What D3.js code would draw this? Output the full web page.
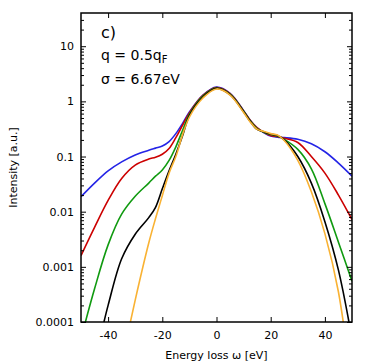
<!DOCTYPE html>
<html>
<head>
<meta charset="utf-8">
<script src="https://cdn.jsdelivr.net/npm/d3@7"></script>
<style>
  body { margin: 0; background: #fff; }
  text { font-family: "DejaVu Sans", sans-serif; }
</style>
</head>
<body>
<div id="chart"></div>
<script>
// energy loss grid (eV)
const omega = [-50, -45, -40, -35, -30, -25, -22.5, -20, -17.5, -15, -12.5, -10, -5, 0, 5, 10, 12.5, 15, 17.5, 20, 22.5, 25, 30, 35, 40, 45, 50];

// intensity (values below 1e-4 are clipped)
const blue   = [0.0187, 0.033, 0.055, 0.08, 0.107, 0.13, 0.142, 0.155, 0.187, 0.26, 0.40, 0.64, 1.3, 1.82, 1.4, 0.68, 0.45, 0.33, 0.27, 0.235, 0.225, 0.22, 0.205, 0.17, 0.122, 0.076, 0.044];
const red    = [0.0016, 0.0052, 0.016, 0.04, 0.07, 0.09, 0.097, 0.11, 0.14, 0.22, 0.37, 0.62, 1.28, 1.78, 1.38, 0.67, 0.45, 0.33, 0.275, 0.24, 0.23, 0.215, 0.18, 0.1, 0.05, 0.02, 0.0072];
const green  = [0.00005, 0.0004, 0.0025, 0.009, 0.019, 0.033, 0.044, 0.057, 0.085, 0.15, 0.3, 0.58, 1.25, 1.75, 1.35, 0.66, 0.44, 0.32, 0.275, 0.25, 0.235, 0.205, 0.135, 0.06, 0.014, 0.0028, 0.00055];
const black  = [0.000003, 0.00002, 0.0002, 0.0014, 0.0039, 0.0078, 0.012, 0.026, 0.055, 0.11, 0.24, 0.55, 1.2, 1.72, 1.33, 0.65, 0.43, 0.31, 0.28, 0.255, 0.24, 0.2, 0.1, 0.033, 0.0066, 0.00087, 0.00005];
const orange = [0.000000002, 0.00000006, 0.0000013, 0.000019, 0.00025, 0.0027, 0.0075, 0.0195, 0.05, 0.1, 0.25, 0.52, 1.15, 1.68, 1.3, 0.63, 0.42, 0.31, 0.285, 0.26, 0.245, 0.195, 0.085, 0.023, 0.004, 0.00035, 0.000006];

const seriesNames = ["blue", "red", "green", "black", "orange"];
const seriesColors = ["#2424e6", "#cc0000", "#109a10", "#000000", "#f9b233"];

const xTicks = [-40, -20, 0, 20, 40];
const xTickLabels = ["-40", "-20", "0", "20", "40"];
const yTicks = [1e-4, 1e-3, 1e-2, 0.1, 1, 10];
const yTickLabels = ["0.0001", "0.001", "0.01", "0.1", "1", "10"];

const W = 374, H = 364;
const margin = {top: 13, right: 22, bottom: 42, left: 81};
const width = W - margin.left - margin.right,
      height = H - margin.top - margin.bottom;

const svg = d3.select("#chart").append("svg")
    .attr("width", W)
    .attr("height", H);

const g = svg.append("g")
    .attr("transform", `translate(${margin.left},${margin.top})`);

const x = d3.scaleLinear().domain([-50, 50]).range([0, width]);
const y = d3.scaleLog().domain([1e-4, 40]).range([height, 0]);

// minor log ticks
const minor = [];
for (let e = -4; e <= 1; e++) {
  for (let k = 2; k <= 9; k++) {
    const v = k * Math.pow(10, e);
    if (v < 40) minor.push(v);
  }
}

g.append("clipPath").attr("id", "clip")
  .append("rect").attr("width", width).attr("height", height);

const line = d3.line()
    .x((d, i) => x(omega[i]))
    .y(d => y(d))
    .curve(d3.curveCatmullRom.alpha(0.5));

const allSeries = [blue, red, green, black, orange];
g.append("g").attr("clip-path", "url(#clip)")
  .selectAll("path")
  .data(allSeries)
  .join("path")
    .attr("class", (d, i) => "line " + seriesNames[i])
    .attr("fill", "none")
    .attr("stroke", (d, i) => seriesColors[i])
    .attr("stroke-width", 1.6)
    .attr("d", line);

// axes with inward ticks
function styleAxis(sel) {
  sel.select(".domain").remove();
  sel.selectAll(".tick line").attr("stroke", "#000").attr("stroke-width", 1);
  sel.selectAll("text").attr("font-size", 11).attr("fill", "#000")
     .style("font-family", "'DejaVu Sans', sans-serif");
}

g.append("g")
  .attr("transform", `translate(0,${height})`)
  .call(d3.axisBottom(x).tickValues(xTicks).tickSize(-5).tickPadding(9)
        .tickFormat((d, i) => xTickLabels[i]))
  .call(styleAxis);

g.append("g")
  .call(d3.axisTop(x).tickValues(xTicks).tickSize(-5).tickFormat(""))
  .call(styleAxis);

g.append("g")
  .call(d3.axisLeft(y).tickValues(yTicks).tickSize(-5).tickPadding(7)
        .tickFormat((d, i) => yTickLabels[i]))
  .call(styleAxis);

g.append("g")
  .call(d3.axisLeft(y).tickValues(minor).tickSize(-3).tickFormat(""))
  .call(styleAxis);

g.append("g")
  .attr("transform", `translate(${width},0)`)
  .call(d3.axisRight(y).tickValues(yTicks).tickSize(-5).tickFormat(""))
  .call(styleAxis);

g.append("g")
  .attr("transform", `translate(${width},0)`)
  .call(d3.axisRight(y).tickValues(minor).tickSize(-3).tickFormat(""))
  .call(styleAxis);

// frame
g.append("rect")
  .attr("width", width)
  .attr("height", height)
  .attr("fill", "none")
  .attr("stroke", "#000")
  .attr("stroke-width", 1.5);

// axis titles
svg.append("text")
  .attr("x", margin.left + x(0))
  .attr("y", 359)
  .attr("text-anchor", "middle")
  .attr("font-size", 11)
  .text("Energy loss ω [eV]");

svg.append("text")
  .attr("transform", `translate(17,${margin.top + height / 2}) rotate(-90)`)
  .attr("text-anchor", "middle")
  .attr("font-size", 11)
  .text("Intensity [a.u.]");

// annotation
const ann = svg.append("g").attr("font-size", 14);
ann.append("text").attr("x", 101).attr("y", 38).attr("font-size", 16).text("c)");
const q = ann.append("text").attr("x", 101).attr("y", 60);
q.append("tspan").text("q = 0.5q");
q.append("tspan").attr("font-size", 10).attr("dy", 3).text("F");
ann.append("text").attr("x", 101).attr("y", 84).text("σ = 6.67eV");
</script>
</body>
</html>
